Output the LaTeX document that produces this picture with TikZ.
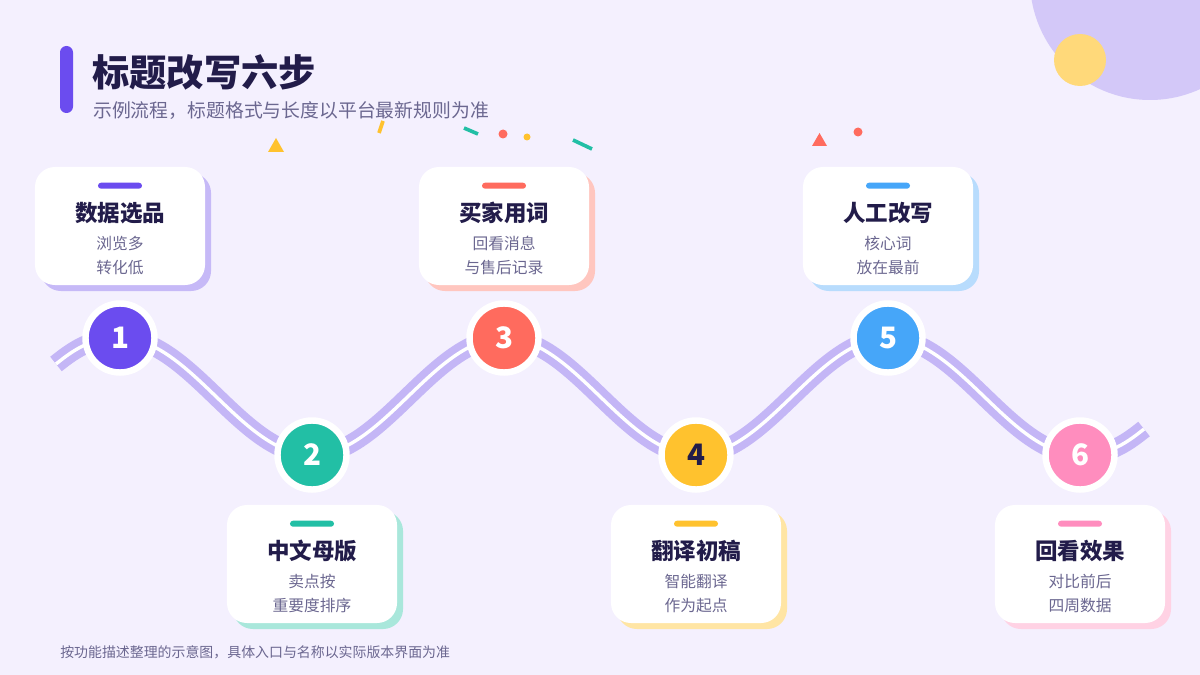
\documentclass[tikz,border=0pt]{standalone}
\usepackage{fontspec}
\setmainfont{Noto Sans CJK SC}
\usepackage{xcolor}
\usetikzlibrary{calc,positioning,shadows}

\definecolor{bgc}{HTML}{F4F0FE}
\definecolor{ink}{HTML}{221C4A}
\definecolor{note}{HTML}{6B6790}
\definecolor{road}{HTML}{C4B6F6}
\definecolor{blob}{HTML}{D3C8F8}
\definecolor{sun}{HTML}{FFD97A}
\definecolor{cpurple}{HTML}{6B4CEF}
\definecolor{cteal}{HTML}{22BFA5}
\definecolor{ccoral}{HTML}{FF6B5E}
\definecolor{cyellow}{HTML}{FFC22E}
\definecolor{cblue}{HTML}{46A6F9}
\definecolor{cpink}{HTML}{FF8DBE}
\definecolor{lpurple}{HTML}{C6B9F7}
\definecolor{lteal}{HTML}{A9E7DB}
\definecolor{lcoral}{HTML}{FFC6BF}
\definecolor{lyellow}{HTML}{FFE5A4}
\definecolor{lblue}{HTML}{B8DCFD}
\definecolor{lpink}{HTML}{FFD2E4}

\pgfdeclarelayer{back}
\pgfsetlayers{back,main}

\begin{document}
\begin{tikzpicture}[
	x = 0.025cm, y = 0.025cm,
	card/.style = {rectangle, fill = white, rounded corners = 0.5cm, minimum width = 4.25cm, minimum height = 2.95cm, inner sep = 0pt,
		drop shadow = {shadow xshift = 0.15cm, shadow yshift = -0.15cm, fill = #1, opacity = 1}},
	stepbar/.style = {rectangle, fill = #1, rounded corners = 0.075cm, minimum width = 1.1cm, minimum height = 0.15cm, inner sep = 0pt},
	steptitle/.style = {inner sep = 0pt, text = ink, font = \fontsize{16}{19}\selectfont\bfseries},
	stepnote/.style = {inner sep = 0pt, text = note, align = center, font = \fontsize{11.2}{17}\selectfont},
	stepdot/.style = {circle, fill = #1, draw = white, line width = 4.6pt, minimum size = 1.725cm, inner sep = 0pt,
		text = white, font = \fontsize{21}{21}\selectfont\bfseries}
]
\useasboundingbox (0,0) rectangle (1200,-675);

% corner blobs
\begin{scope}
\clip (0,0) rectangle (1200,-675);
\fill[blob] (1150,20) circle (120);
\end{scope}
\fill[sun] (1080,-60) circle (26);

% heading
\fill[cpurple, rounded corners = 0.16cm] (60,-46) rectangle (73,-113);
\node[anchor = west, inner sep = 0pt, text = ink, font = \fontsize{26.5}{30}\selectfont\bfseries] (title) at (92,-72) {标题改写六步};
\node[anchor = west, inner sep = 0pt, text = note, font = \fontsize{13.4}{16}\selectfont] (subtitle) at (93,-111) {示例流程，标题格式与长度以平台最新规则为准};

% confetti
\fill[cyellow] (268,-152) -- (284,-152) -- (276,-138) -- cycle;
\draw[cyellow, line width = 2.6pt] (383,-121) -- (379,-133);
\draw[cteal, line width = 2.6pt] (464,-128) -- (478,-134);
\fill[ccoral] (503,-134) circle (4.5);
\fill[cyellow] (527,-137) circle (3.5);
\draw[cteal, line width = 2.6pt] (573,-140) -- (592,-149);
\fill[ccoral] (812,-146) -- (827,-146) -- (819.5,-133) -- cycle;
\fill[ccoral] (858,-132) circle (4.5);

% steps on the road
\node[stepdot = cpurple] (s1) at (120,-338) {1};
\node[stepdot = cteal] (s2) at (312,-455) {2};
\node[stepdot = ccoral] (s3) at (504,-338) {3};
\node[stepdot = cyellow, text = ink] (s4) at (696,-455) {4};
\node[stepdot = cblue] (s5) at (888,-338) {5};
\node[stepdot = cpink] (s6) at (1080,-455) {6};
\coordinate (ws) at (56,-364);
\coordinate (we) at (1144,-429);

\begin{pgfonlayer}{back}
\fill[bgc] (0,0) rectangle (1200,-675);
\draw[road, line width = 5.4pt, double = white, double distance = 2.4pt]
	(ws) to[out = 39, in = 180] (s1.center)
	to[out = 0, in = 180, looseness = 0.8] (s2.center)
	to[out = 0, in = 180, looseness = 0.8] (s3.center)
	to[out = 0, in = 180, looseness = 0.8] (s4.center)
	to[out = 0, in = 180, looseness = 0.8] (s5.center)
	to[out = 0, in = 180, looseness = 0.8] (s6.center)
	to[out = 0, in = 219] (we);
\end{pgfonlayer}

% cards
\node[card = lpurple] (k1) at (120,-226) {};
\node[stepbar = cpurple] at ($(k1.north)+(0,-19)$) {};
\node[steptitle] at ($(k1.north)+(0,-46)$) {数据选品};
\node[stepnote] at ($(k1.north)+(0,-89)$) {浏览多\\转化低};

\node[card = lteal] (k2) at (312,-564) {};
\node[stepbar = cteal] at ($(k2.north)+(0,-19)$) {};
\node[steptitle] at ($(k2.north)+(0,-46)$) {中文母版};
\node[stepnote] at ($(k2.north)+(0,-89)$) {卖点按\\重要度排序};

\node[card = lcoral] (k3) at (504,-226) {};
\node[stepbar = ccoral] at ($(k3.north)+(0,-19)$) {};
\node[steptitle] at ($(k3.north)+(0,-46)$) {买家用词};
\node[stepnote] at ($(k3.north)+(0,-89)$) {回看消息\\与售后记录};

\node[card = lyellow] (k4) at (696,-564) {};
\node[stepbar = cyellow] at ($(k4.north)+(0,-19)$) {};
\node[steptitle] at ($(k4.north)+(0,-46)$) {翻译初稿};
\node[stepnote] at ($(k4.north)+(0,-89)$) {智能翻译\\作为起点};

\node[card = lblue] (k5) at (888,-226) {};
\node[stepbar = cblue] at ($(k5.north)+(0,-19)$) {};
\node[steptitle] at ($(k5.north)+(0,-46)$) {人工改写};
\node[stepnote] at ($(k5.north)+(0,-89)$) {核心词\\放在最前};

\node[card = lpink] (k6) at (1080,-564) {};
\node[stepbar = cpink] at ($(k6.north)+(0,-19)$) {};
\node[steptitle] at ($(k6.north)+(0,-46)$) {回看效果};
\node[stepnote] at ($(k6.north)+(0,-89)$) {对比前后\\四周数据};

% footer
\node[anchor = west, inner sep = 0pt, text = note, font = \fontsize{9.9}{12}\selectfont] (footer) at (60,-652) {按功能描述整理的示意图，具体入口与名称以实际版本界面为准};
\end{tikzpicture}
\end{document}
